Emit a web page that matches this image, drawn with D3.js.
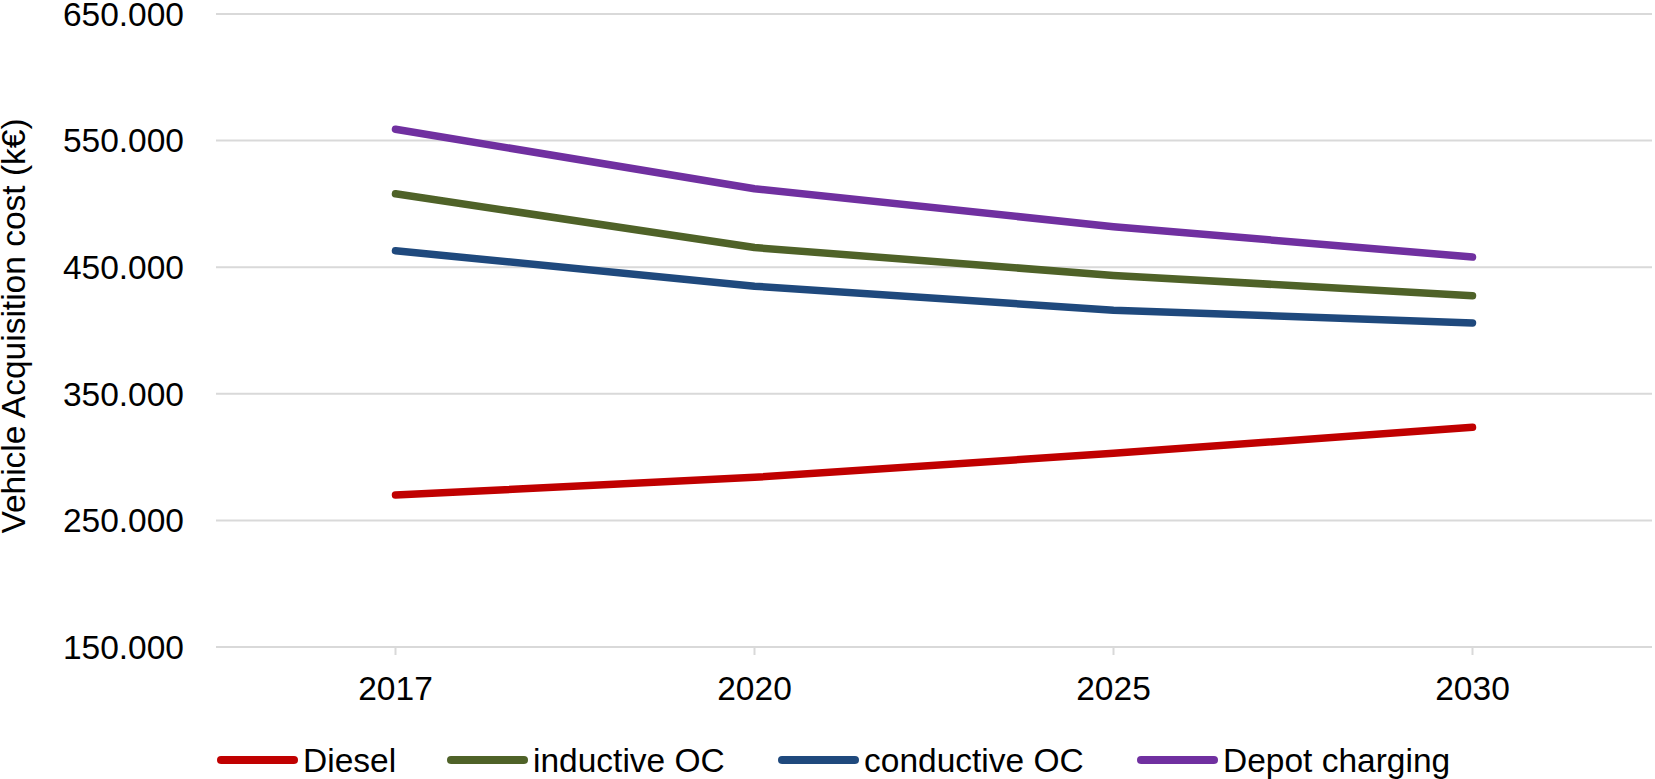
<!DOCTYPE html>
<html><head><meta charset="utf-8">
<script src="https://cdn.jsdelivr.net/npm/d3@7"></script>
<style>html,body{margin:0;padding:0;background:#fff;}svg{display:block;font-family:"Liberation Sans",Arial,sans-serif;}</style>
</head><body>
<svg id="c" width="1655" height="779"></svg>
<script>
const years = ["2017","2020","2025","2030"];
const seriesNames = ["Diesel","inductive OC","conductive OC","Depot charging"];
const diesel = [270, 284, 303, 323.5];
const inductiveOC = [508, 465.5, 443.5, 427.5];
const conductiveOC = [463, 435, 416, 406];
const depotCharging = [559, 512, 482, 458];
const seriesColors = ["#C00000","#4F6228","#1F497D","#7030A0"];
const yTicks = [150, 250, 350, 450, 550, 650];
const yTickLabels = ["150.000","250.000","350.000","450.000","550.000","650.000"];
const yTitle = "Vehicle Acquisition cost (k€)";

const seriesValues = [diesel, inductiveOC, conductiveOC, depotCharging];
const FS = 33.5;
const svg = d3.select("#c");
const m = {left:216, right:1652, top:14, bottom:647};
const x = d3.scaleBand().domain(years).range([m.left, m.right]).padding(0);
const y = d3.scaleLinear().domain([150,650]).range([m.bottom, m.top]);

// gridlines
svg.append("g").selectAll("line").data(yTicks).join("line")
  .attr("x1", m.left).attr("x2", m.right)
  .attr("y1", d=>y(d)).attr("y2", d=>y(d))
  .attr("stroke","#d9d9d9").attr("stroke-width",2);

// y labels
svg.append("g").selectAll("text").data(yTicks).join("text")
  .attr("x", 184).attr("y", d=>y(d)).attr("dy","0.35em")
  .attr("text-anchor","end").attr("font-size",FS).attr("fill","#000")
  .text((d,i)=>yTickLabels[i]);

// x ticks
svg.append("g").selectAll("line").data(years).join("line")
  .attr("x1", d=>x(d)+x.bandwidth()/2).attr("x2", d=>x(d)+x.bandwidth()/2)
  .attr("y1", m.bottom).attr("y2", m.bottom+8)
  .attr("stroke","#d9d9d9").attr("stroke-width",2);
svg.append("g").selectAll("text").data(years).join("text")
  .attr("x", d=>x(d)+x.bandwidth()/2).attr("y", 700)
  .attr("text-anchor","middle").attr("font-size",FS).attr("fill","#000")
  .text(d=>d);

// y title
svg.append("text").attr("transform","translate(25,326) rotate(-90)")
  .attr("text-anchor","middle").attr("font-size",FS).attr("fill","#000").text(yTitle);

// lines
const line = d3.line().x((d,i)=>x(years[i])+x.bandwidth()/2).y(d=>y(d));
svg.append("g").selectAll("path").data(seriesValues).join("path")
  .attr("d", line).attr("fill","none")
  .attr("stroke",(d,i)=>seriesColors[i]).attr("stroke-width",7.5)
  .attr("stroke-linecap","round").attr("stroke-linejoin","round");

// legend
const legX = [221, 451, 782, 1141];
const lg = svg.append("g").selectAll("g").data(seriesNames).join("g")
  .attr("transform",(d,i)=>`translate(${legX[i]},760)`);
lg.append("line").attr("x1",0).attr("x2",73).attr("y1",0).attr("y2",0)
  .attr("stroke",(d,i)=>seriesColors[i]).attr("stroke-width",8).attr("stroke-linecap","round");
lg.append("text").attr("x",82).attr("y",0).attr("dy","0.35em")
  .attr("font-size",FS).attr("fill","#000").text(d=>d);
</script>
</body></html>
